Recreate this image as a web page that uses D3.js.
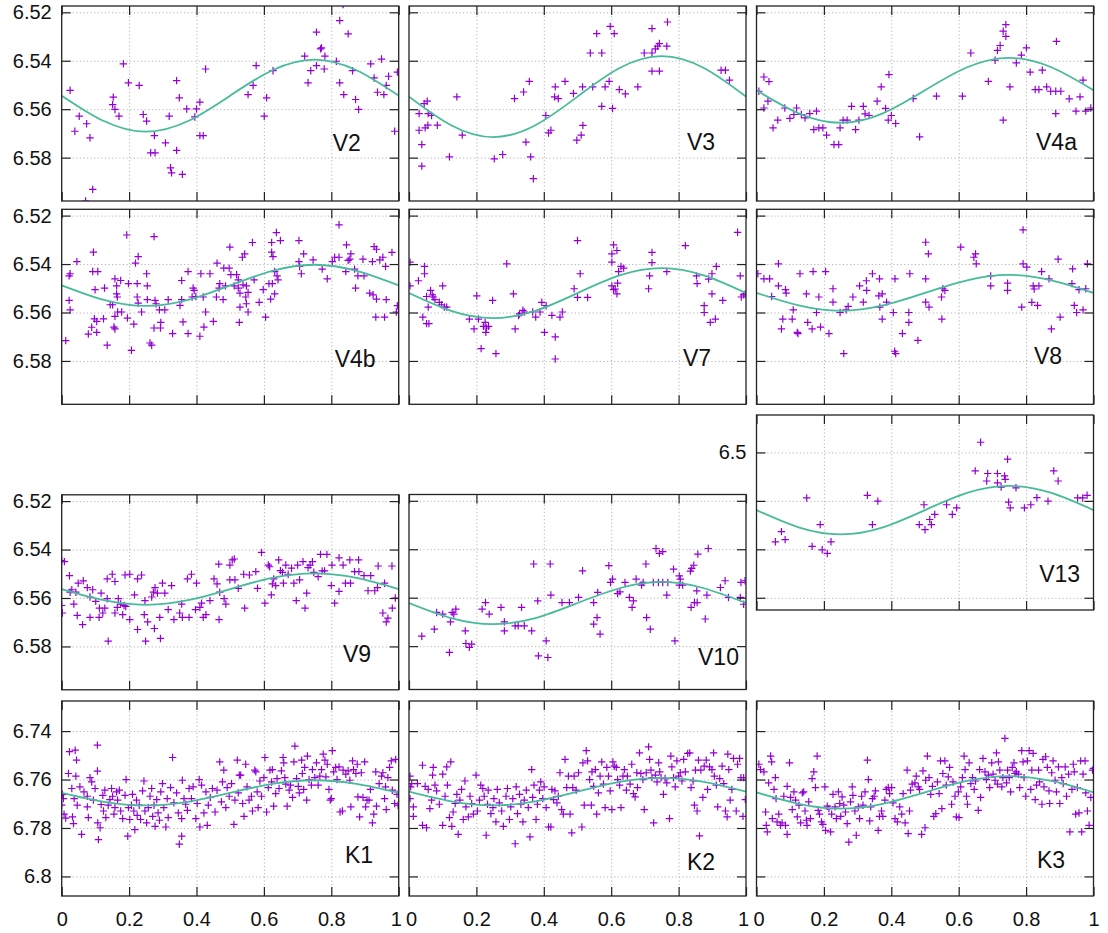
<!DOCTYPE html>
<html><head><meta charset="utf-8">
<script src="https://cdn.jsdelivr.net/npm/d3@7"></script>
<style>
body{margin:0;background:#fff;}
svg{display:block;font-family:"Liberation Sans",Arial,sans-serif;}
</style></head><body>
<svg id="chart" width="1108" height="933"></svg>
<script>
// ---------- data ----------
const categories = ["V2","V3","V4a","V4b","V7","V8","V13","V9","V10","K1","K2","K3"];
const phaseTicks = [0,0.2,0.4,0.6,0.8,1];
const magTicksV = [6.52,6.54,6.56,6.58];
const magTicksV13 = [6.5,6.52,6.54,6.56];
const magTicksK = [6.74,6.76,6.78,6.8];
const curvePhases = [0,0.125,0.25,0.375,0.5,0.625,0.75,0.875,1];

const curveV2  = [6.5544,6.5649,6.5693,6.5649,6.5544,6.5439,6.5395,6.5439,6.5544];
const curveV3  = [6.5548,6.5666,6.5715,6.5666,6.5548,6.5430,6.5381,6.5430,6.5548];
const curveV4a = [6.5522,6.5617,6.5656,6.5617,6.5522,6.5427,6.5388,6.5427,6.5522];
const curveV4b = [6.5488,6.5548,6.5573,6.5548,6.5488,6.5428,6.5403,6.5428,6.5488];
const curveV7  = [6.5520,6.5593,6.5623,6.5593,6.5520,6.5447,6.5417,6.5447,6.5520];
const curveV8  = [6.5519,6.5571,6.5593,6.5571,6.5519,6.5467,6.5445,6.5467,6.5519];
const curveV13 = [6.5238,6.5309,6.5338,6.5309,6.5238,6.5167,6.5138,6.5167,6.5238];
const curveV9  = [6.5563,6.5609,6.5628,6.5609,6.5563,6.5517,6.5498,6.5517,6.5563];
const curveV10 = [6.5622,6.5684,6.5709,6.5684,6.5622,6.5561,6.5535,6.5561,6.5622];
const curveK1  = [6.7655,6.7692,6.7707,6.7692,6.7655,6.7618,6.7603,6.7618,6.7655];
const curveK2  = [6.7650,6.7690,6.7707,6.7690,6.7650,6.7610,6.7593,6.7610,6.7650];
const curveK3  = [6.7653,6.7700,6.7720,6.7700,6.7653,6.7606,6.7586,6.7606,6.7653];

const ptsV2 = [[0.025,6.5522],[0.052,6.5629],[0.039,6.5691],[0.074,6.566],[0.084,6.5718],[0.092,6.5931],[0.071,6.5979],[0.151,6.5581],[0.153,6.555],[0.158,6.5601],[0.17,6.5629],[0.183,6.5413],[0.198,6.5491],[0.23,6.5502],[0.242,6.5622],[0.252,6.5649],[0.275,6.5709],[0.264,6.578],[0.277,6.578],[0.308,6.5739],[0.319,6.5629],[0.323,6.5842],[0.326,6.5863],[0.341,6.5482],[0.349,6.5553],[0.341,6.577],[0.358,6.5869],[0.371,6.5599],[0.395,6.5632],[0.4,6.5599],[0.41,6.5571],[0.41,6.5709],[0.42,6.5709],[0.427,6.5434],[0.553,6.554],[0.568,6.5502],[0.577,6.542],[0.601,6.5629],[0.608,6.5553],[0.627,6.5441],[0.721,6.5381],[0.731,6.5491],[0.739,6.5441],[0.756,6.5282],[0.756,6.542],[0.768,6.5351],[0.771,6.5347],[0.781,6.5381],[0.779,6.5434],[0.815,6.5402],[0.825,6.5234],[0.835,6.5168],[0.825,6.5491],[0.837,6.554],[0.85,6.5289],[0.863,6.5441],[0.872,6.556],[0.881,6.5601],[0.917,6.5413],[0.927,6.5471],[0.949,6.5393],[0.937,6.553],[0.963,6.5502],[0.956,6.554],[0.97,6.5464],[0.996,6.5447],[0.988,6.5691]];

const ptsV3 = [[0.03,6.5618],[0.03,6.5687],[0.038,6.5746],[0.038,6.5835],[0.045,6.5577],[0.054,6.5567],[0.048,6.5677],[0.056,6.5666],[0.057,6.5618],[0.067,6.5626],[0.084,6.5666],[0.12,6.5797],[0.142,6.5549],[0.158,6.5707],[0.253,6.5805],[0.278,6.5787],[0.313,6.5556],[0.34,6.5529],[0.357,6.5485],[0.347,6.5736],[0.361,6.5797],[0.369,6.5887],[0.406,6.5626],[0.414,6.5698],[0.421,6.5687],[0.434,6.5508],[0.432,6.5549],[0.443,6.5556],[0.463,6.5485],[0.488,6.5535],[0.498,6.5728],[0.511,6.5707],[0.516,6.5667],[0.515,6.5508],[0.538,6.5368],[0.545,6.5508],[0.557,6.5288],[0.572,6.5368],[0.572,6.5588],[0.582,6.5508],[0.594,6.5485],[0.597,6.5258],[0.609,6.5288],[0.604,6.5597],[0.624,6.5519],[0.642,6.5537],[0.679,6.5508],[0.698,6.5368],[0.721,6.5267],[0.721,6.5368],[0.721,6.5443],[0.731,6.5351],[0.738,6.534],[0.743,6.5443],[0.743,6.5329],[0.765,6.534],[0.767,6.524],[0.926,6.5439],[0.939,6.5439],[0.951,6.548]];

const ptsV4a = [[0.007,6.5526],[0.022,6.5467],[0.037,6.5486],[0.022,6.5595],[0.034,6.5567],[0.049,6.5677],[0.063,6.5645],[0.084,6.5595],[0.099,6.5638],[0.111,6.5622],[0.119,6.5595],[0.133,6.5622],[0.144,6.5636],[0.158,6.5618],[0.178,6.5608],[0.17,6.5684],[0.185,6.5677],[0.197,6.5677],[0.208,6.5707],[0.23,6.5746],[0.244,6.5746],[0.248,6.5677],[0.257,6.5645],[0.269,6.5645],[0.282,6.5588],[0.294,6.5684],[0.304,6.5645],[0.317,6.5588],[0.322,6.5619],[0.334,6.5626],[0.358,6.5567],[0.37,6.5508],[0.383,6.5597],[0.393,6.5457],[0.391,6.5645],[0.4,6.5626],[0.413,6.5659],[0.465,6.5556],[0.484,6.5714],[0.534,6.5546],[0.611,6.5546],[0.636,6.5368],[0.688,6.5485],[0.708,6.5398],[0.715,6.5357],[0.723,6.5337],[0.732,6.5278],[0.74,6.5251],[0.74,6.5299],[0.732,6.5645],[0.752,6.5508],[0.771,6.5409],[0.786,6.5377],[0.801,6.5347],[0.812,6.5447],[0.827,6.5519],[0.838,6.5519],[0.848,6.5439],[0.861,6.5508],[0.873,6.5526],[0.888,6.5526],[0.89,6.532],[0.903,6.5526],[0.888,6.5618],[0.928,6.5557],[0.948,6.5608],[0.96,6.5549],[0.969,6.548],[0.977,6.5608],[0.992,6.5595]];

const ptsV4b = [[0.012,6.5716],[0.022,6.5449],[0.025,6.544],[0.022,6.555],[0.025,6.5589],[0.045,6.539],[0.079,6.5689],[0.089,6.5661],[0.094,6.5351],[0.092,6.5431],[0.107,6.5431],[0.099,6.5506],[0.097,6.5626],[0.104,6.5682],[0.104,6.5637],[0.124,6.5626],[0.127,6.5499],[0.135,6.5735],[0.144,6.5568],[0.151,6.5568],[0.155,6.566],[0.158,6.5668],[0.158,6.5616],[0.158,6.5461],[0.163,6.5523],[0.163,6.549],[0.165,6.5536],[0.166,6.5598],[0.175,6.5468],[0.178,6.5598],[0.193,6.528],[0.195,6.5623],[0.198,6.5481],[0.207,6.5756],[0.214,6.5648],[0.219,6.5396],[0.227,6.5369],[0.224,6.5481],[0.224,6.5536],[0.227,6.5561],[0.237,6.5598],[0.252,6.544],[0.254,6.549],[0.254,6.5547],[0.262,6.5726],[0.267,6.5735],[0.274,6.5287],[0.274,6.5664],[0.277,6.555],[0.28,6.5564],[0.29,6.5589],[0.294,6.5641],[0.293,6.5664],[0.306,6.5589],[0.316,6.5547],[0.329,6.5687],[0.351,6.5571],[0.356,6.5547],[0.356,6.5468],[0.36,6.5639],[0.375,6.5431],[0.375,6.5687],[0.387,6.5536],[0.39,6.5499],[0.393,6.5509],[0.398,6.5534],[0.41,6.5698],[0.413,6.544],[0.42,6.5536],[0.422,6.566],[0.427,6.5598],[0.44,6.544],[0.45,6.5637],[0.461,6.5396],[0.459,6.5536],[0.467,6.5499],[0.469,6.5481],[0.479,6.5547],[0.481,6.5417],[0.497,6.5417],[0.499,6.533],[0.486,6.549],[0.502,6.5444],[0.512,6.549],[0.519,6.5444],[0.524,6.5465],[0.524,6.5499],[0.529,6.5578],[0.527,6.5641],[0.529,6.552],[0.536,6.5372],[0.543,6.5358],[0.538,6.5486],[0.546,6.5536],[0.548,6.549],[0.548,6.5564],[0.553,6.5598],[0.553,6.5517],[0.566,6.5311],[0.571,6.5465],[0.586,6.5558],[0.598,6.5506],[0.605,6.5619],[0.615,6.5481],[0.62,6.5545],[0.623,6.5311],[0.623,6.5351],[0.627,6.5369],[0.625,6.5481],[0.632,6.5523],[0.632,6.5431],[0.637,6.527],[0.639,6.5449],[0.642,6.5465],[0.649,6.5303],[0.704,6.5303],[0.704,6.539],[0.706,6.541],[0.711,6.544],[0.718,6.5358],[0.746,6.5383],[0.773,6.5421],[0.788,6.5461],[0.803,6.539],[0.81,6.5372],[0.823,6.5238],[0.823,6.5372],[0.843,6.5431],[0.845,6.5321],[0.85,6.5385],[0.858,6.5358],[0.855,6.538],[0.869,6.5421],[0.872,6.5499],[0.879,6.5449],[0.894,6.538],[0.897,6.5449],[0.914,6.552],[0.922,6.539],[0.927,6.5328],[0.934,6.5339],[0.924,6.5527],[0.934,6.5545],[0.944,6.5383],[0.953,6.5372],[0.932,6.5619],[0.963,6.5547],[0.958,6.5619],[0.961,6.541],[0.98,6.5352],[0.996,6.5572],[0.993,6.5598]];

const ptsV7 = [[0.003,6.5392],[0.003,6.549],[0.028,6.5469],[0.046,6.541],[0.046,6.544],[0.052,6.5534],[0.057,6.5578],[0.041,6.5619],[0.052,6.5646],[0.059,6.5646],[0.064,6.5509],[0.069,6.5527],[0.072,6.5536],[0.077,6.5547],[0.09,6.5558],[0.1,6.549],[0.097,6.5568],[0.105,6.5578],[0.112,6.5578],[0.179,6.5627],[0.193,6.5668],[0.201,6.5531],[0.206,6.5627],[0.214,6.5749],[0.221,6.5657],[0.226,6.5641],[0.23,6.5664],[0.228,6.5682],[0.236,6.5657],[0.248,6.555],[0.258,6.577],[0.29,6.5399],[0.31,6.5523],[0.315,6.5668],[0.325,6.5613],[0.328,6.5606],[0.338,6.5591],[0.342,6.5598],[0.367,6.5598],[0.376,6.5619],[0.389,6.5598],[0.394,6.5558],[0.402,6.5682],[0.407,6.5572],[0.424,6.5612],[0.434,6.5701],[0.434,6.5792],[0.448,6.5619],[0.455,6.5598],[0.49,6.5502],[0.5,6.5538],[0.5,6.5303],[0.508,6.544],[0.53,6.5538],[0.602,6.5392],[0.602,6.5358],[0.607,6.5321],[0.617,6.5344],[0.602,6.549],[0.607,6.5506],[0.612,6.5503],[0.617,6.5523],[0.619,6.5479],[0.622,6.5431],[0.629,6.541],[0.637,6.5417],[0.711,6.5502],[0.714,6.5449],[0.721,6.5352],[0.721,6.5394],[0.765,6.5431],[0.82,6.5324],[0.853,6.5449],[0.855,6.5481],[0.876,6.5572],[0.876,6.56],[0.889,6.5462],[0.899,6.544],[0.899,6.5523],[0.894,6.5641],[0.909,6.5627],[0.912,6.541],[0.931,6.555],[0.975,6.5269],[0.983,6.5449],[0.986,6.5536],[0.993,6.5527],[0.998,6.5523]];

const ptsV8 = [[0.004,6.544],[0.022,6.5461],[0.039,6.5461],[0.045,6.5534],[0.065,6.5399],[0.065,6.549],[0.078,6.5627],[0.074,6.5668],[0.086,6.5506],[0.088,6.552],[0.106,6.5627],[0.109,6.5589],[0.121,6.5682],[0.123,6.5687],[0.129,6.544],[0.148,6.5523],[0.152,6.5641],[0.165,6.5668],[0.168,6.5431],[0.178,6.56],[0.185,6.5536],[0.19,6.566],[0.205,6.5431],[0.215,6.5687],[0.227,6.5502],[0.227,6.5557],[0.248,6.56],[0.259,6.577],[0.266,6.5589],[0.272,6.5575],[0.286,6.5536],[0.306,6.549],[0.317,6.5557],[0.326,6.5469],[0.327,6.5509],[0.344,6.544],[0.365,6.5461],[0.366,6.5578],[0.363,6.5531],[0.373,6.5523],[0.373,6.5627],[0.386,6.5557],[0.406,6.56],[0.411,6.5461],[0.41,6.576],[0.413,6.577],[0.433,6.5687],[0.452,6.56],[0.452,6.5641],[0.455,6.544],[0.479,6.5715],[0.502,6.531],[0.502,6.5461],[0.51,6.5358],[0.502,6.5557],[0.512,6.5578],[0.549,6.5536],[0.55,6.5627],[0.553,6.5502],[0.559,6.5509],[0.606,6.533],[0.645,6.5372],[0.65,6.5358],[0.652,6.5399],[0.695,6.5449],[0.695,6.549],[0.745,6.5479],[0.745,6.5509],[0.791,6.5259],[0.791,6.5399],[0.802,6.5413],[0.787,6.5578],[0.817,6.5558],[0.821,6.549],[0.824,6.5503],[0.834,6.5571],[0.838,6.549],[0.846,6.5431],[0.868,6.5461],[0.875,6.5668],[0.895,6.538],[0.901,6.5619],[0.938,6.542],[0.936,6.5481],[0.943,6.5571],[0.95,6.56],[0.957,6.5506],[0.969,6.5589],[0.977,6.5502],[0.982,6.5399]];

const ptsV13 = [[0.056,6.5369],[0.074,6.5327],[0.085,6.536],[0.149,6.5188],[0.165,6.5388],[0.189,6.5298],[0.195,6.5402],[0.21,6.5417],[0.221,6.5369],[0.329,6.5177],[0.344,6.5298],[0.36,6.5201],[0.483,6.5298],[0.5,6.5319],[0.497,6.5216],[0.514,6.5277],[0.519,6.5298],[0.529,6.5256],[0.564,6.5216],[0.581,6.5256],[0.594,6.5229],[0.649,6.5076],[0.665,6.4958],[0.683,6.5118],[0.686,6.5087],[0.715,6.5087],[0.715,6.5126],[0.726,6.5143],[0.736,6.5097],[0.738,6.5111],[0.745,6.5028],[0.748,6.5205],[0.753,6.5229],[0.77,6.5146],[0.795,6.5229],[0.814,6.5216],[0.832,6.5187],[0.865,6.5201],[0.882,6.5076],[0.895,6.5118],[0.953,6.5188],[0.968,6.5188],[0.981,6.5177]];

const ptsV9 = [[0,6.5446],[0.008,6.545],[0,6.5631],[0.002,6.5662],[0.023,6.5508],[0.025,6.5576],[0.03,6.5566],[0.036,6.5625],[0.042,6.5576],[0.046,6.5672],[0.049,6.5539],[0.062,6.571],[0.064,6.5529],[0.076,6.5557],[0.084,6.5596],[0.084,6.568],[0.092,6.5566],[0.101,6.5614],[0.111,6.568],[0.117,6.558],[0.112,6.5642],[0.122,6.5662],[0.128,6.5642],[0.135,6.5603],[0.138,6.5778],[0.135,6.5521],[0.15,6.5502],[0.158,6.5532],[0.158,6.5662],[0.165,6.5639],[0.168,6.5603],[0.175,6.5625],[0.181,6.5669],[0.185,6.5631],[0.188,6.5505],[0.19,6.5635],[0.202,6.5689],[0.202,6.5502],[0.216,6.5587],[0.225,6.573],[0.225,6.5521],[0.237,6.5505],[0.247,6.5611],[0.245,6.5669],[0.249,6.5778],[0.255,6.5699],[0.267,6.5596],[0.275,6.5726],[0.272,6.5576],[0.277,6.5557],[0.284,6.558],[0.291,6.568],[0.293,6.5767],[0.299,6.5539],[0.306,6.558],[0.316,6.5648],[0.326,6.5549],[0.333,6.5689],[0.35,6.5662],[0.356,6.5625],[0.358,6.568],[0.373,6.5521],[0.378,6.568],[0.385,6.5502],[0.4,6.5539],[0.397,6.5648],[0.41,6.5639],[0.415,6.5621],[0.42,6.568],[0.428,6.5669],[0.44,6.5611],[0.452,6.5521],[0.461,6.5542],[0.466,6.546],[0.467,6.5689],[0.469,6.5576],[0.482,6.5603],[0.487,6.5625],[0.499,6.5464],[0.506,6.5443],[0.512,6.5439],[0.499,6.5525],[0.514,6.5525],[0.524,6.556],[0.543,6.5642],[0.54,6.5502],[0.557,6.5505],[0.576,6.5491],[0.581,6.556],[0.593,6.5412],[0.603,6.5621],[0.613,6.5464],[0.617,6.5471],[0.625,6.5542],[0.622,6.5587],[0.629,6.5521],[0.635,6.5549],[0.644,6.5443],[0.649,6.5487],[0.655,6.5494],[0.658,6.5539],[0.665,6.5464],[0.672,6.5502],[0.682,6.5477],[0.689,6.5539],[0.696,6.5611],[0.7,6.5464],[0.706,6.5525],[0.716,6.545],[0.722,6.5642],[0.727,6.558],[0.731,6.5475],[0.737,6.5464],[0.744,6.545],[0.748,6.5494],[0.761,6.5512],[0.768,6.542],[0.773,6.5488],[0.78,6.5488],[0.787,6.542],[0.8,6.5549],[0.802,6.5464],[0.81,6.5621],[0.823,6.5434],[0.823,6.5573],[0.835,6.5464],[0.842,6.5539],[0.855,6.5443],[0.857,6.5539],[0.869,6.5491],[0.881,6.5443],[0.882,6.5491],[0.897,6.5508],[0.909,6.557],[0.917,6.5508],[0.929,6.557],[0.937,6.5557],[0.939,6.5468],[0.953,6.5662],[0.958,6.5539],[0.963,6.5699],[0.968,6.5683],[0.98,6.5468],[0.981,6.5642],[0.99,6.56]];

const ptsV10 = [[0.038,6.5759],[0.075,6.573],[0.082,6.5661],[0.1,6.5668],[0.12,6.5826],[0.123,6.57],[0.128,6.5661],[0.133,6.5668],[0.139,6.5647],[0.167,6.5737],[0.169,6.5789],[0.179,6.5805],[0.186,6.5792],[0.217,6.5647],[0.227,6.562],[0.238,6.5668],[0.273,6.564],[0.283,6.57],[0.283,6.5737],[0.315,6.5716],[0.324,6.5716],[0.334,6.564],[0.342,6.5716],[0.364,6.5737],[0.37,6.5461],[0.382,6.5613],[0.384,6.584],[0.407,6.5778],[0.412,6.5847],[0.419,6.5461],[0.421,6.5589],[0.454,6.562],[0.476,6.562],[0.503,6.5599],[0.515,6.5489],[0.548,6.562],[0.548,6.5709],[0.56,6.5578],[0.558,6.5682],[0.567,6.575],[0.593,6.5468],[0.598,6.5537],[0.604,6.5523],[0.619,6.5583],[0.626,6.5576],[0.641,6.5537],[0.654,6.5599],[0.662,6.564],[0.666,6.5613],[0.674,6.5523],[0.69,6.5548],[0.695,6.5537],[0.703,6.5461],[0.705,6.5682],[0.716,6.573],[0.733,6.5397],[0.743,6.5417],[0.753,6.541],[0.725,6.5537],[0.74,6.5537],[0.753,6.5537],[0.768,6.5537],[0.765,6.5589],[0.785,6.5482],[0.789,6.5778],[0.802,6.551],[0.805,6.5523],[0.802,6.5548],[0.812,6.5548],[0.835,6.549],[0.839,6.5479],[0.845,6.5466],[0.837,6.564],[0.847,6.562],[0.855,6.562],[0.854,6.5572],[0.857,6.542],[0.884,6.5589],[0.879,6.5688],[0.888,6.5397],[0.924,6.5558],[0.938,6.553],[0.948,6.5599],[0.983,6.5599],[0.985,6.5537],[0.997,6.553],[0.993,6.5627]];

const ptsK1 = [[0.002,6.7662],[0,6.7706],[0.005,6.7679],[0.007,6.7743],[0.012,6.7759],[0.02,6.7575],[0.023,6.7485],[0.04,6.7479],[0.044,6.752],[0.042,6.7586],[0.03,6.7637],[0.032,6.7754],[0.035,6.7782],[0.037,6.7679],[0.046,6.7706],[0.059,6.7826],[0.054,6.763],[0.066,6.7651],[0.076,6.7669],[0.076,6.7713],[0.079,6.7757],[0.084,6.7592],[0.089,6.761],[0.094,6.7685],[0.099,6.7637],[0.106,6.7458],[0.106,6.7565],[0.107,6.7779],[0.109,6.7848],[0.114,6.7799],[0.117,6.7703],[0.122,6.7665],[0.124,6.773],[0.128,6.7644],[0.131,6.7757],[0.138,6.7706],[0.143,6.7683],[0.148,6.7637],[0.151,6.7669],[0.155,6.7743],[0.158,6.7716],[0.163,6.7651],[0.166,6.7685],[0.171,6.7644],[0.175,6.773],[0.181,6.7761],[0.188,6.7665],[0.191,6.76],[0.196,6.7834],[0.198,6.7716],[0.202,6.7765],[0.207,6.7706],[0.21,6.7661],[0.214,6.773],[0.217,6.7807],[0.222,6.7685],[0.224,6.7748],[0.23,6.7706],[0.234,6.7765],[0.24,6.7647],[0.244,6.7606],[0.247,6.773],[0.252,6.7779],[0.257,6.7716],[0.262,6.7669],[0.267,6.7637],[0.27,6.7752],[0.274,6.7706],[0.277,6.7793],[0.282,6.7683],[0.286,6.7738],[0.29,6.7768],[0.294,6.7651],[0.299,6.7617],[0.303,6.7716],[0.309,6.7796],[0.313,6.7679],[0.316,6.7757],[0.323,6.7633],[0.329,6.7509],[0.333,6.7696],[0.341,6.7655],[0.346,6.7738],[0.349,6.7867],[0.356,6.7834],[0.356,6.7761],[0.358,6.7603],[0.363,6.7679],[0.368,6.7702],[0.373,6.7727],[0.378,6.7637],[0.385,6.7679],[0.39,6.763],[0.398,6.7761],[0.402,6.7699],[0.408,6.76],[0.41,6.7796],[0.415,6.7623],[0.422,6.7738],[0.428,6.7651],[0.432,6.7789],[0.435,6.7706],[0.441,6.7674],[0.447,6.7637],[0.455,6.7734],[0.461,6.7644],[0.469,6.7527],[0.474,6.7692],[0.477,6.761],[0.481,6.7561],[0.487,6.7716],[0.491,6.7633],[0.497,6.7669],[0.504,6.7617],[0.511,6.7785],[0.514,6.7685],[0.521,6.752],[0.524,6.7655],[0.527,6.7582],[0.531,6.7582],[0.537,6.7699],[0.541,6.7752],[0.546,6.7537],[0.55,6.763],[0.556,6.7685],[0.563,6.7669],[0.566,6.773],[0.573,6.7561],[0.576,6.7568],[0.58,6.7651],[0.583,6.7716],[0.588,6.7606],[0.593,6.7669],[0.6,6.7592],[0.603,6.7509],[0.608,6.7734],[0.613,6.7633],[0.618,6.7561],[0.623,6.761],[0.625,6.7559],[0.629,6.771],[0.635,6.7658],[0.639,6.7596],[0.645,6.7637],[0.652,6.7564],[0.657,6.7509],[0.659,6.7531],[0.662,6.7592],[0.665,6.7619],[0.669,6.771],[0.675,6.7644],[0.679,6.7623],[0.685,6.7674],[0.689,6.7527],[0.692,6.7462],[0.697,6.7596],[0.702,6.7628],[0.705,6.7655],[0.712,6.752],[0.714,6.7575],[0.718,6.7641],[0.721,6.755],[0.727,6.7685],[0.729,6.7503],[0.734,6.76],[0.741,6.7623],[0.744,6.7559],[0.751,6.7592],[0.756,6.7531],[0.761,6.7623],[0.766,6.7586],[0.771,6.7559],[0.776,6.7495],[0.781,6.752],[0.784,6.7589],[0.788,6.7537],[0.793,6.7641],[0.797,6.7685],[0.8,6.7679],[0.803,6.7481],[0.807,6.7568],[0.813,6.755],[0.817,6.76],[0.823,6.7548],[0.826,6.7734],[0.833,6.773],[0.835,6.7561],[0.843,6.7578],[0.85,6.7564],[0.855,6.7603],[0.858,6.7713],[0.863,6.7523],[0.866,6.7559],[0.873,6.7575],[0.877,6.7537],[0.879,6.7672],[0.884,6.7754],[0.889,6.7572],[0.894,6.7674],[0.899,6.7527],[0.902,6.7713],[0.906,6.7685],[0.912,6.7685],[0.916,6.7641],[0.922,6.7779],[0.926,6.7743],[0.932,6.7568],[0.934,6.771],[0.942,6.7617],[0.949,6.7586],[0.953,6.7572],[0.958,6.7679],[0.961,6.763],[0.963,6.7724],[0.968,6.7592],[0.973,6.755],[0.978,6.7523],[0.981,6.7644],[0.988,6.7699],[0.991,6.7517],[0.995,6.7661],[0.998,6.7706]];

const ptsK2 = [[0.003,6.7586],[0.005,6.763],[0.003,6.7679],[0.008,6.7617],[0.013,6.7713],[0.013,6.7752],[0.025,6.7617],[0.04,6.7541],[0.04,6.7789],[0.048,6.7628],[0.052,6.7799],[0.057,6.7641],[0.062,6.772],[0.067,6.7685],[0.07,6.7582],[0.072,6.755],[0.077,6.7623],[0.082,6.7647],[0.09,6.7702],[0.1,6.7578],[0.1,6.7789],[0.107,6.7669],[0.112,6.7548],[0.114,6.7623],[0.12,6.7757],[0.124,6.7527],[0.127,6.7793],[0.131,6.7734],[0.137,6.7699],[0.142,6.7661],[0.146,6.7826],[0.151,6.7685],[0.156,6.7641],[0.161,6.7765],[0.166,6.7606],[0.169,6.7713],[0.176,6.7754],[0.181,6.7669],[0.186,6.7699],[0.191,6.7743],[0.199,6.7582],[0.203,6.773],[0.209,6.7685],[0.213,6.7623],[0.219,6.7637],[0.223,6.7669],[0.229,6.783],[0.233,6.7702],[0.235,6.7644],[0.243,6.7741],[0.249,6.7716],[0.252,6.7679],[0.258,6.7775],[0.262,6.7641],[0.268,6.7696],[0.275,6.773],[0.28,6.7793],[0.288,6.7669],[0.292,6.7637],[0.298,6.7765],[0.302,6.7713],[0.308,6.7679],[0.315,6.7865],[0.318,6.763],[0.322,6.7741],[0.328,6.7661],[0.332,6.7702],[0.338,6.7775],[0.342,6.7685],[0.348,6.7644],[0.354,6.7716],[0.359,6.7837],[0.364,6.7559],[0.367,6.7674],[0.371,6.7623],[0.377,6.7765],[0.381,6.7702],[0.387,6.7644],[0.391,6.761],[0.397,6.7679],[0.401,6.763],[0.407,6.7716],[0.414,6.7796],[0.421,6.7796],[0.424,6.7641],[0.429,6.7683],[0.433,6.7647],[0.439,6.7696],[0.443,6.7669],[0.448,6.7572],[0.453,6.7724],[0.458,6.7743],[0.463,6.7517],[0.468,6.7633],[0.473,6.7586],[0.478,6.7743],[0.483,6.782],[0.486,6.7633],[0.49,6.7586],[0.496,6.7644],[0.503,6.7572],[0.513,6.7796],[0.516,6.7531],[0.52,6.7706],[0.526,6.7481],[0.53,6.7523],[0.536,6.76],[0.541,6.7706],[0.543,6.7568],[0.548,6.7628],[0.553,6.7559],[0.557,6.7743],[0.562,6.7655],[0.567,6.7586],[0.572,6.7527],[0.577,6.7619],[0.582,6.7716],[0.587,6.755],[0.592,6.7586],[0.597,6.7647],[0.602,6.7724],[0.605,6.7527],[0.609,6.7545],[0.615,6.755],[0.619,6.76],[0.625,6.7623],[0.629,6.7716],[0.635,6.7586],[0.639,6.7559],[0.645,6.7644],[0.648,6.7586],[0.656,6.7619],[0.661,6.7537],[0.666,6.7658],[0.671,6.7672],[0.676,6.7572],[0.678,6.7633],[0.684,6.749],[0.688,6.7575],[0.694,6.76],[0.698,6.7724],[0.704,6.7572],[0.711,6.7465],[0.714,6.7517],[0.718,6.7561],[0.721,6.7592],[0.726,6.7779],[0.731,6.7582],[0.736,6.761],[0.741,6.7531],[0.744,6.7568],[0.748,6.7592],[0.755,6.7661],[0.76,6.7596],[0.765,6.7614],[0.773,6.7761],[0.777,6.7503],[0.78,6.7548],[0.785,6.7592],[0.79,6.763],[0.795,6.7523],[0.8,6.7586],[0.805,6.7572],[0.81,6.7606],[0.815,6.7517],[0.82,6.7568],[0.827,6.7492],[0.833,6.749],[0.837,6.7633],[0.843,6.7606],[0.847,6.7706],[0.85,6.7561],[0.855,6.773],[0.859,6.752],[0.862,6.7833],[0.866,6.7561],[0.872,6.7674],[0.876,6.7545],[0.882,6.752],[0.886,6.7641],[0.892,6.7548],[0.899,6.7559],[0.904,6.749],[0.906,6.7586],[0.912,6.7623],[0.916,6.7713],[0.922,6.7596],[0.929,6.7545],[0.934,6.7617],[0.939,6.773],[0.944,6.7754],[0.946,6.7495],[0.949,6.7559],[0.953,6.7685],[0.958,6.7641],[0.963,6.7513],[0.971,6.773],[0.975,6.7537],[0.981,6.7513],[0.985,6.7592],[0.991,6.7752],[0.993,6.7592],[0.998,6.7683]];

const ptsK3 = [[0.007,6.7537],[0.012,6.7559],[0.022,6.7568],[0.027,6.7734],[0.029,6.7789],[0.032,6.7816],[0.036,6.7614],[0.042,6.7503],[0.045,6.7527],[0.047,6.7761],[0.052,6.7641],[0.056,6.7592],[0.058,6.7679],[0.061,6.7775],[0.066,6.7743],[0.071,6.7789],[0.076,6.7779],[0.081,6.7669],[0.086,6.7789],[0.091,6.7826],[0.091,6.7628],[0.098,6.7531],[0.101,6.7674],[0.106,6.7724],[0.111,6.7651],[0.116,6.7685],[0.121,6.7754],[0.126,6.7706],[0.131,6.7779],[0.136,6.7655],[0.14,6.7651],[0.144,6.773],[0.148,6.7768],[0.15,6.7789],[0.155,6.7692],[0.16,6.7761],[0.165,6.7596],[0.17,6.7568],[0.175,6.7633],[0.18,6.7503],[0.183,6.7727],[0.187,6.7743],[0.193,6.7775],[0.197,6.7785],[0.203,6.763],[0.205,6.781],[0.21,6.771],[0.215,6.772],[0.22,6.7816],[0.223,6.7743],[0.227,6.7661],[0.233,6.7713],[0.237,6.7761],[0.243,6.7651],[0.247,6.7699],[0.25,6.7752],[0.254,6.7672],[0.259,6.7706],[0.264,6.7734],[0.269,6.7782],[0.274,6.7858],[0.279,6.7692],[0.284,6.763],[0.286,6.7665],[0.292,6.773],[0.296,6.783],[0.302,6.7713],[0.306,6.7761],[0.312,6.7669],[0.316,6.7706],[0.322,6.7651],[0.329,6.752],[0.332,6.76],[0.336,6.7771],[0.339,6.7713],[0.344,6.7679],[0.349,6.7669],[0.353,6.7647],[0.361,6.781],[0.365,6.7752],[0.371,6.773],[0.375,6.7752],[0.381,6.7685],[0.385,6.7641],[0.391,6.7633],[0.395,6.7658],[0.401,6.7633],[0.405,6.7696],[0.411,6.7761],[0.418,6.7775],[0.425,6.7713],[0.431,6.7743],[0.435,6.7658],[0.441,6.7779],[0.447,6.7561],[0.45,6.7823],[0.454,6.773],[0.457,6.7644],[0.462,6.7619],[0.47,6.7614],[0.474,6.7586],[0.48,6.763],[0.484,6.7641],[0.49,6.7826],[0.494,6.7564],[0.5,6.7799],[0.502,6.7603],[0.507,6.7503],[0.512,6.7592],[0.517,6.7661],[0.522,6.7628],[0.526,6.7752],[0.532,6.7741],[0.537,6.761],[0.542,6.7658],[0.546,6.7523],[0.55,6.772],[0.553,6.7575],[0.559,6.7523],[0.563,6.7623],[0.569,6.7589],[0.573,6.755],[0.579,6.7702],[0.583,6.761],[0.589,6.7669],[0.593,6.7754],[0.599,6.7651],[0.601,6.7757],[0.606,6.763],[0.611,6.7592],[0.616,6.7503],[0.619,6.7559],[0.623,6.7669],[0.626,6.7702],[0.631,6.7531],[0.636,6.7617],[0.641,6.7592],[0.646,6.7641],[0.65,6.7606],[0.658,6.7727],[0.662,6.7559],[0.665,6.7674],[0.672,6.7513],[0.678,6.7568],[0.682,6.76],[0.688,6.7582],[0.692,6.7633],[0.698,6.7531],[0.702,6.7578],[0.708,6.7603],[0.712,6.749],[0.715,6.7619],[0.718,6.7527],[0.722,6.7561],[0.728,6.763],[0.731,6.7592],[0.737,6.743],[0.742,6.7614],[0.745,6.7561],[0.75,6.7592],[0.754,6.7651],[0.759,6.755],[0.764,6.7531],[0.767,6.7575],[0.771,6.7568],[0.777,6.7578],[0.781,6.7633],[0.787,6.7481],[0.791,6.7527],[0.794,6.7592],[0.799,6.7669],[0.804,6.7523],[0.809,6.7481],[0.814,6.7641],[0.817,6.7561],[0.821,6.7492],[0.827,6.7683],[0.831,6.7623],[0.837,6.7561],[0.84,6.761],[0.847,6.7702],[0.85,6.7517],[0.853,6.763],[0.858,6.7506],[0.863,6.755],[0.868,6.7647],[0.87,6.7699],[0.876,6.7572],[0.88,6.7523],[0.886,6.7603],[0.89,6.7651],[0.896,6.7548],[0.9,6.7699],[0.906,6.7592],[0.91,6.7617],[0.916,6.7548],[0.92,6.7669],[0.926,6.7578],[0.93,6.7816],[0.936,6.7641],[0.94,6.7537],[0.943,6.7568],[0.947,6.7743],[0.952,6.7633],[0.957,6.7738],[0.962,6.7523],[0.965,6.7816],[0.969,6.7578],[0.975,6.7523],[0.977,6.7655],[0.982,6.773],[0.987,6.7789],[0.992,6.7674],[0.997,6.7561],[1.0,6.7554]];

// ---------- layout (positions / styles only) ----------
const W = 337, H = 195;
const colX = [61.7, 409, 756.5];
const domV = [6.5174, 6.5979], domV13 = [6.48455, 6.56505], domK = [6.72758, 6.80808];
const panels = [
  {name:"V2",  pts:ptsV2,  curve:curveV2,  col:0, top:6,     dom:domV,   ticks:magTicksV,   yLab:true,  xLab:false, lab:[271,145]},
  {name:"V3",  pts:ptsV3,  curve:curveV3,  col:1, top:6,     dom:domV,   ticks:magTicksV,   yLab:false, xLab:false, lab:[278,144]},
  {name:"V4a", pts:ptsV4a, curve:curveV4a, col:2, top:6,     dom:domV,   ticks:magTicksV,   yLab:false, xLab:false, lab:[279.5,144]},
  {name:"V4b", pts:ptsV4b, curve:curveV4b, col:0, top:209.3, dom:domV,   ticks:magTicksV,   yLab:true,  xLab:false, lab:[273,157.4]},
  {name:"V7",  pts:ptsV7,  curve:curveV7,  col:1, top:209.3, dom:domV,   ticks:magTicksV,   yLab:false, xLab:false, lab:[274,156.4]},
  {name:"V8",  pts:ptsV8,  curve:curveV8,  col:2, top:209.3, dom:domV,   ticks:magTicksV,   yLab:false, xLab:false, lab:[277.5,155]},
  {name:"V13", pts:ptsV13, curve:curveV13, col:2, top:415,   dom:domV13, ticks:magTicksV13, yLab:"first", xLab:false, lab:[282.7,166.7]},
  {name:"V9",  pts:ptsV9,  curve:curveV9,  col:0, top:494.8, dom:domV,   ticks:magTicksV,   yLab:true,  xLab:false, lab:[281.3,166.8]},
  {name:"V10", pts:ptsV10, curve:curveV10, col:1, top:494.5, dom:domV,   ticks:magTicksV,   yLab:false, xLab:false, lab:[289,170.5]},
  {name:"K1",  pts:ptsK1,  curve:curveK1,  col:0, top:701,   dom:domK,   ticks:magTicksK,   yLab:true,  xLab:true,  lab:[283.3,162.3]},
  {name:"K2",  pts:ptsK2,  curve:curveK2,  col:1, top:701,   dom:domK,   ticks:magTicksK,   yLab:false, xLab:true,  lab:[278,169]},
  {name:"K3",  pts:ptsK3,  curve:curveK3,  col:2, top:701,   dom:domK,   ticks:magTicksK,   yLab:false, xLab:true,  lab:[280.5,167.3]}
];

const POINT_COLOR = "#9400d3", LINE_COLOR = "#47bb9a", GRID_COLOR = "#b4b4b4";
const svg = d3.select("#chart");
const fmt = v => String(+v.toFixed(2));

panels.forEach((p, i) => {
  const x0 = colX[p.col];
  const x = d3.scaleLinear([0,1], [x0, x0+W]);
  const y = d3.scaleLinear(p.dom, [p.top, p.top+H]);
  const g = svg.append("g").attr("class","panel-"+p.name);

  g.append("rect").attr("x",x0).attr("y",p.top).attr("width",W).attr("height",H).attr("fill","#fff");

  const clipId = "clip"+i;
  g.append("clipPath").attr("id",clipId).append("rect")
    .attr("x",x0).attr("y",p.top).attr("width",W).attr("height",H);

  // grid
  const gy = g.append("g").attr("transform",`translate(${x0},0)`)
    .call(d3.axisLeft(y).tickValues(p.ticks).tickSize(-W).tickFormat(""));
  const gx = g.append("g").attr("transform",`translate(0,${p.top+H})`)
    .call(d3.axisBottom(x).tickValues([0.2,0.4,0.6,0.8]).tickSize(-H).tickFormat(""));
  [gy,gx].forEach(a => {
    a.select(".domain").remove();
    a.selectAll(".tick line").attr("stroke",GRID_COLOR).attr("stroke-width",1).attr("stroke-dasharray","1.2,2.4");
  });

  // points
  const ptsG = g.append("g").attr("clip-path",`url(#${clipId})`);
  ptsG.selectAll("path.pt").data(p.pts).join("path").attr("class","pt")
    .attr("d", d => `M${x(d[0])-3.7},${y(d[1])}h7.4M${x(d[0])},${y(d[1])-3.7}v7.4`)
    .attr("stroke",POINT_COLOR).attr("stroke-width",1.2).attr("fill","none");

  // fitted curve
  const line = d3.line().x((d,k) => x(curvePhases[k])).y(d => y(d)).curve(d3.curveNatural);
  ptsG.append("path").datum(p.curve).attr("d",line)
    .attr("fill","none").attr("stroke",LINE_COLOR).attr("stroke-width",1.8);

  // axes ticks (inward) on all sides
  const yFmt = p.yLab === true ? fmt : (p.yLab === "first" ? (v => v === p.ticks[0] ? fmt(v) : "") : () => "");
  const aL = g.append("g").attr("transform",`translate(${x0},0)`)
    .call(d3.axisLeft(y).tickValues(p.ticks).tickSize(-9).tickPadding(10).tickFormat(yFmt));
  const aR = g.append("g").attr("transform",`translate(${x0+W},0)`)
    .call(d3.axisRight(y).tickValues(p.ticks).tickSize(-9).tickFormat(""));
  const aB = g.append("g").attr("transform",`translate(0,${p.top+H})`)
    .call(d3.axisBottom(x).tickValues(phaseTicks).tickSize(-9).tickPadding(15.5).tickFormat(p.xLab ? fmt : () => ""));
  const aT = g.append("g").attr("transform",`translate(0,${p.top})`)
    .call(d3.axisTop(x).tickValues(phaseTicks).tickSize(-9).tickFormat(""));
  [aL,aR,aB,aT].forEach(a => {
    a.select(".domain").remove();
    a.selectAll(".tick line").attr("stroke","#222").attr("stroke-width",1.2);
    a.selectAll("text").attr("font-size",20).attr("fill","#111")
      .attr("font-family",'"Liberation Sans",Arial,sans-serif');
  });
  // keep the "1" of one panel and the "0" of the next from merging
  if (p.xLab) {
    aB.selectAll(".tick text").filter(d => d === 1).attr("dx", p.col < 2 ? -3 : 0);
    aB.selectAll(".tick text").filter(d => d === 0).attr("dx", p.col > 0 ? 2 : 0);
  }

  // border
  g.append("rect").attr("x",x0).attr("y",p.top).attr("width",W).attr("height",H)
    .attr("fill","none").attr("stroke","#222").attr("stroke-width",1.3);

  // panel label
  g.append("text").attr("x",x0+p.lab[0]).attr("y",p.top+p.lab[1])
    .attr("font-size",23).attr("fill","#111").text(p.name);
});
</script>
</body></html>
